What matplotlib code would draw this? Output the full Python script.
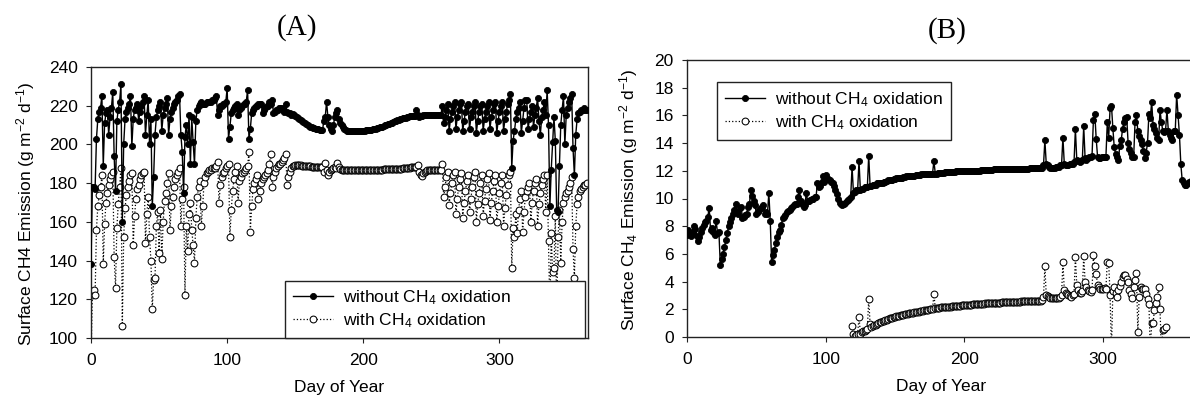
import matplotlib
matplotlib.use("Agg")
import matplotlib.pyplot as plt

plt.rcParams['font.family'] = ['Liberation Sans', 'DejaVu Sans']
plt.rcParams['mathtext.fontset'] = 'custom'
plt.rcParams['mathtext.rm'] = 'Liberation Sans'
plt.rcParams['mathtext.it'] = 'Liberation Sans:italic'
plt.rcParams['mathtext.bf'] = 'Liberation Sans:bold'

# ---------------- data ----------------
days_a = list(range(0, 365))
days_b = list(range(0, 365))
days_b_with = list(range(119, 346))

# Panel A: without CH4 oxidation (g m-2 d-1)
a_without = [
    138, 178, 178, 177, 203, 213, 217, 219, 225, 189,
    211, 216, 218, 205, 214, 219, 227, 194, 176, 212,
    218, 222, 231, 160, 200, 213, 217, 219, 221, 225,
    199, 213, 218, 219, 221, 212, 217, 220, 222, 225,
    205, 215, 223, 200, 213, 168, 183, 205, 214, 218,
    220, 222, 207, 215, 219, 221, 224, 205, 213, 217,
    219, 221, 222, 223, 225, 226, 205, 196, 175, 204,
    210, 200, 215, 190, 214, 201, 190, 212, 218, 220,
    221, 222, 221, 221, 221, 222, 222, 222, 222, 223,
    223, 224, 225, 215, 218, 220, 220, 221, 221, 222,
    229, 203, 209, 216, 218, 219, 220, 221, 215, 218,
    219, 220, 221, 221, 222, 228, 203, 208, 216, 218,
    219, 220, 220, 221, 221, 221, 216, 218, 219, 220,
    220, 222, 221, 223, 216, 217, 218, 218, 219, 219,
    219, 218, 217, 221, 217, 216, 216, 215, 215.5, 215,
    214.5, 214, 213.5, 213, 212.5, 212, 211.5, 211, 210.5, 210,
    209.5, 209.2, 209, 208.7, 208.5, 208.2, 208, 207.8, 207.6, 207.5,
    207.4, 212, 214, 222, 214, 210, 208, 207, 210, 214,
    216, 218, 213, 211, 210, 209, 208, 207.5, 207, 207,
    206.8, 206.8, 206.8, 206.8, 206.9, 206.9, 206.9, 207, 207, 207,
    207.1, 207.1, 207.2, 207.3, 207.4, 207.5, 207.6, 207.8, 208, 208.2,
    208.4, 208.6, 208.8, 209, 209.2, 209.5, 209.8, 210.1, 210.4, 210.7,
    211, 211.3, 211.6, 211.9, 212.2, 212.5, 212.8, 213, 213.3, 213.5,
    213.7, 213.9, 214.1, 214.3, 214.5, 214.6, 214.7, 214.8, 214.9, 218,
    215, 214, 214.5, 214.8, 215, 215, 215, 215, 215, 215.1,
    215.1, 215.1, 215.2, 215.2, 215.2, 215.3, 215.3, 215.3, 220, 211,
    214, 218, 221, 207, 213, 217, 220, 222, 208, 214,
    218, 221, 222, 207, 212, 217, 220, 221, 208, 214,
    217, 220, 222, 206, 212, 217, 220, 221, 207, 213,
    217, 220, 222, 208, 214, 218, 221, 222, 206, 212,
    217, 220, 222, 207, 213, 217, 221, 223, 226, 188,
    202, 207, 213, 217, 219, 222, 206, 212, 219, 223,
    223, 208, 213, 217, 220, 209, 215, 219, 224, 212,
    205, 214, 218, 222, 215, 228, 210, 168, 187, 201,
    214, 202, 166, 165, 189, 210, 218, 225, 200, 215,
    219, 222, 224, 226, 198, 184, 205, 213, 216, 217,
    218, 218, 219, 218, 218,
]

# Panel A: with CH4 oxidation
a_with = [
    90, 122, 125, 122, 156, 168, 174, 178, 184, 138,
    159, 170, 175, 179, 182, 184, 186, 142, 126, 157,
    169, 178, 188, 106, 152, 167, 174, 178, 181, 184,
    185, 148, 163, 172, 177, 179, 182, 184, 185, 186,
    149, 164, 173, 152, 140, 115, 130, 131, 158, 165,
    144, 166, 141, 160, 171, 175, 180, 185, 156, 168,
    173, 178, 182, 184, 186, 188, 158, 172, 178, 122,
    158, 145, 164, 170, 156, 148, 139, 162, 173, 178,
    181, 158, 168, 180, 183, 185, 186, 187, 187, 188,
    188, 188, 189, 191, 170, 179, 183, 185, 186, 188,
    189, 190, 152, 166, 176, 182, 186, 189, 170, 181,
    183, 185, 186, 187, 188, 189, 196, 155, 168, 177,
    180, 182, 184, 172, 176, 180, 182, 183, 184, 185,
    187, 190, 195, 178, 183, 186, 188, 189, 190, 190,
    191, 192, 193, 195, 179, 183, 186, 188, 189, 189,
    189.3, 189.3, 189.3, 189.2, 189.2, 189.1, 189, 189, 188.9, 188.8,
    188.7, 188.6, 188.5, 188.5, 188.4, 188.4, 188.3, 188.3, 188.2, 188.2,
    188.2, 186, 190.5, 186.8, 184.2, 186, 187, 187.5, 188, 188.5,
    187.6, 190.5, 188.5, 187.3, 187, 186.9, 186.8, 186.8, 186.8, 186.8,
    186.8, 186.8, 186.8, 186.8, 186.8, 186.8, 186.8, 186.8, 186.8, 186.8,
    186.8, 186.8, 186.8, 186.8, 186.9, 186.9, 186.9, 186.9, 187, 187,
    187, 187, 187, 187, 187, 187.1, 187.1, 187.1, 187.2, 187.2,
    187.2, 187.3, 187.3, 187.3, 187.4, 187.4, 187.5, 187.5, 187.5, 187.6,
    187.6, 187.7, 187.8, 187.9, 188, 188.1, 188.2, 188.3, 188.5, 188.5,
    189.3, 186, 184, 183.8, 185, 186, 186.5, 186.8, 186.8, 186.8,
    186.8, 186.8, 186.8, 186.8, 186.8, 186.8, 186.8, 186.8, 189.7, 173,
    178, 183, 186, 168.7, 175, 180, 184, 186, 164, 172,
    178, 182, 185, 162, 170, 176, 181, 184, 165, 172,
    178, 183, 186, 160, 169, 175, 180, 184, 163, 171,
    177, 182, 185, 161, 170, 176, 181, 184, 160, 168,
    175, 180, 184, 158, 167, 174, 179, 184, 186, 136,
    157, 152, 164, 154, 166, 172, 176, 155, 165, 173,
    176, 178, 180, 160, 170, 176, 180, 182, 158, 169,
    175, 179, 182, 184, 165, 184, 150, 114, 154, 134,
    136, 163, 111, 152, 166, 139, 160, 170, 173, 175,
    176, 178, 180, 183, 146, 131, 158, 169, 173, 176,
    177, 178, 179, 179, 180,
]

# Panel B: without CH4 oxidation
b_without = [
    7.4, 7.7, 7.5, 7.3, 7.6, 8.0, 7.8, 7.3, 6.9, 7.2,
    7.6, 7.9, 8.1, 8.3, 8.4, 8.7, 9.3, 7.7, 7.9, 7.6,
    7.4, 8.4, 7.5, 7.6, 5.2, 5.6, 6.0, 6.5, 7.0, 7.5,
    8.0, 8.3, 8.6, 8.9, 9.2, 9.6, 9.0, 8.9, 9.3, 9.4,
    8.6, 8.7, 8.8, 8.9, 9.4, 9.6, 10.6, 10.2, 9.8, 9.5,
    8.9, 9.0, 9.2, 9.3, 9.4, 9.5, 8.9, 9.0, 8.9, 10.4,
    8.4, 5.4, 5.9, 6.3, 6.8, 7.2, 7.6, 7.7, 8.1, 8.6,
    8.7, 8.8, 9.0, 9.1, 9.2, 9.3, 9.4, 9.5, 9.6, 9.6,
    10.1, 10.6, 9.8, 9.6, 9.4, 9.5, 10.4, 9.8, 9.8, 9.9,
    10.0, 10.0, 10.1, 10.1, 11.1, 10.8, 10.9, 11.2, 11.6, 11.2,
    11.7, 11.5, 11.4, 11.3, 11.2, 11.1, 10.9, 10.6, 10.3, 10.0,
    9.7, 9.6, 9.5, 9.6, 9.7, 9.8, 9.9, 10.0, 10.1, 12.3,
    10.4, 10.5, 10.6, 10.6, 12.7, 10.6, 10.7, 10.7, 10.8, 10.8,
    10.8, 13.1, 10.9, 10.9, 11.0, 11.0, 11.0, 11.1, 11.1, 11.1,
    11.1, 11.15, 11.2, 11.2, 11.25, 11.3, 11.3, 11.35, 11.35, 11.4,
    11.4, 11.45, 11.45, 11.5, 11.5, 11.5, 11.55, 11.55, 11.6, 11.6,
    11.6, 11.6, 11.65, 11.65, 11.65, 11.7, 11.7, 11.7, 11.7, 11.75,
    11.75, 11.75, 11.75, 11.8, 11.8, 11.8, 11.8, 11.8, 12.7, 11.8,
    11.8, 11.85, 11.85, 11.85, 11.85, 11.85, 11.9, 11.9, 11.9, 11.9,
    11.9, 11.9, 11.9, 11.9, 11.95, 11.95, 11.95, 11.95, 11.95, 11.95,
    12.0, 12.0, 12.0, 12.0, 12.0, 12.0, 12.0, 12.0, 12.0, 12.0,
    12.0, 12.0, 12.05, 12.05, 12.05, 12.05, 12.05, 12.05, 12.05, 12.05,
    12.05, 12.1, 12.1, 12.1, 12.1, 12.1, 12.1, 12.1, 12.1, 12.1,
    12.1, 12.1, 12.1, 12.1, 12.1, 12.1, 12.15, 12.15, 12.15, 12.15,
    12.15, 12.15, 12.15, 12.15, 12.15, 12.15, 12.15, 12.2, 12.2, 12.2,
    12.2, 12.2, 12.2, 12.2, 12.2, 12.2, 12.2, 12.4, 14.2, 12.5,
    12.4, 12.3, 12.2, 12.2, 12.2, 12.2, 12.3, 12.3, 12.3, 12.4,
    12.4, 14.4, 12.5, 12.4, 12.4, 12.4, 12.5, 12.5, 12.5, 12.6,
    15.0, 12.8, 12.7, 12.6, 12.7, 12.8, 15.2, 12.9, 12.8, 12.9,
    13.0, 13.0, 13.1, 15.7, 16.1, 14.3, 13.0, 12.9, 12.9, 13.0,
    13.0, 13.0, 13.0, 15.5, 14.4, 16.5, 16.7, 15.1, 13.7, 13.2,
    13.0, 12.8, 13.8, 14.2, 15.0, 15.5, 15.8, 15.9, 14.0, 13.6,
    13.3, 13.0, 13.0, 15.5, 16.0, 14.9, 14.5, 14.2, 13.9, 13.4,
    12.9, 13.3, 14.0, 16.1, 15.8, 17.0, 15.3, 15.0, 14.7, 14.4,
    14.2, 16.4, 15.5, 14.9, 14.8, 14.9, 16.4, 14.9, 14.6, 14.4,
    14.2, 14.9, 14.9, 17.5, 16.0, 14.6, 12.5, 11.3, 11.1, 11.0,
    11.0, 11.1, 11.2, 11.2, 11.3,
]

# Panel B: with CH4 oxidation (days 119-345)
b_with = [
    0.8,
    0.2, 0.1, 0.15, 0.2, 1.45, 0.25, 0.35, 0.4, 0.45, 0.5,
    0.55, 2.75, 0.95, 0.75, 0.8, 0.85, 0.9, 0.95, 1.0, 1.05,
    1.1, 1.14, 1.18, 1.22, 1.26, 1.3, 1.34, 1.37, 1.4, 1.43,
    1.46, 1.49, 1.52, 1.55, 1.58, 1.6, 1.62, 1.64, 1.66, 1.68,
    1.7, 1.72, 1.74, 1.76, 1.78, 1.8, 1.82, 1.84, 1.86, 1.88,
    1.9, 1.92, 1.94, 1.96, 1.98, 2.0, 2.02, 2.04, 3.1, 2.06,
    2.08, 2.1, 2.12, 2.13, 2.14, 2.15, 2.16, 2.17, 2.18, 2.19,
    2.2, 2.21, 2.22, 2.23, 2.24, 2.25, 2.26, 2.27, 2.28, 2.29,
    2.3, 2.31, 2.32, 2.32, 2.33, 2.34, 2.35, 2.36, 2.37, 2.38,
    2.38, 2.39, 2.4, 2.4, 2.41, 2.42, 2.42, 2.43, 2.44, 2.44,
    2.45, 2.46, 2.46, 2.47, 2.48, 2.48, 2.49, 2.5, 2.5, 2.51,
    2.51, 2.52, 2.52, 2.53, 2.53, 2.54, 2.54, 2.55, 2.55, 2.56,
    2.56, 2.57, 2.57, 2.58, 2.58, 2.59, 2.59, 2.6, 2.6, 2.6,
    2.61, 2.61, 2.62, 2.62, 2.63, 2.63, 2.64, 2.9, 5.1, 3.0,
    2.95, 2.9, 2.85, 2.8, 2.8, 2.8, 2.8, 2.8, 2.85, 2.9,
    3.0, 5.4, 3.4, 3.2, 3.1, 3.0, 2.95, 2.9, 3.0, 3.1,
    5.8, 3.75, 3.4, 3.15, 3.2, 3.3, 5.85, 4.0, 3.6, 3.4,
    3.3, 3.27, 3.4, 5.92, 5.1, 4.55, 3.75, 3.6, 3.5, 3.5,
    3.5, 3.55, 3.5, 5.44, 5.36, 3.03, -1.0, 3.3, 3.63, 3.2,
    2.9, 3.4, 3.7, 4.0, 4.3, 4.47, 4.47, 4.2, 4.0, 3.4,
    3.1, 2.79, 3.63, 4.1, 4.6, 0.38, 2.9, 3.63, 3.5, 3.5,
    3.5, 3.1, 2.72, 2.4, -1.0, 1.0, 1.03, 1.95, 2.43, 2.9,
    3.6, 2.0, -1.0, 0.5, 0.6, 0.7,
]

label_without = 'without CH$_4$ oxidation'
label_with = 'with CH$_4$ oxidation'
yticks_a = [100, 120, 140, 160, 180, 200, 220, 240]
yticks_b = [0, 2, 4, 6, 8, 10, 12, 14, 16, 18, 20]
xticks = [0, 100, 200, 300]

# ---------------- figure ----------------
W, H = 1190, 403
fig = plt.figure(figsize=(W / 100, H / 100), dpi=100)
ax_a = fig.add_axes([91 / W, 65 / H, 497 / W, 271 / H])
ax_b = fig.add_axes([687 / W, 66 / H, 506.3 / W, 277 / H])

black_kw = dict(color='black', linestyle='-', linewidth=1.0, marker='o',
                markersize=4.4, markerfacecolor='black', markeredgecolor='black',
                markeredgewidth=0.6, zorder=3)
white_kw = dict(color='black', linestyle=':', linewidth=0.9, marker='o',
                markersize=4.9, markerfacecolor='white', markeredgecolor='black',
                markeredgewidth=0.75, zorder=2)

for ax in (ax_a, ax_b):
    for s in ax.spines.values():
        s.set_linewidth(1.0)
        s.set_color('#222222')
    ax.tick_params(direction='out', length=3.5, width=0.8, labelsize=12.5, pad=6,
                   color='#222222')
    ax.tick_params(axis='x', pad=7)
    ax.set_xticks(xticks)
    ax.set_xlim(0, 365)

# Panel A
l_with_a, = ax_a.plot(days_a, a_with, label=label_with, **white_kw)
l_wo_a, = ax_a.plot(days_a, a_without, label=label_without, **black_kw)
ax_a.set_ylim(100, 240)
ax_a.set_yticks(yticks_a)
ax_a.set_xlabel('Day of Year', fontsize=12.5)
ax_a.set_ylabel('Surface CH4 Emission (g m$^{-2}$ d$^{-1}$)', fontsize=12.5)
ax_a.xaxis.set_label_coords(0.5, -0.155)
ax_a.yaxis.set_label_coords(-0.109, 0.46)
leg_a = ax_a.legend(handles=[l_wo_a, l_with_a], loc='lower left',
                    bbox_to_anchor=((285 - 91) / 497, 0.0, (585 - 285) / 497, 0.2),
                    mode='expand', borderaxespad=0, fontsize=12.5, numpoints=1,
                    handlelength=2.3, handletextpad=0.6, labelspacing=0.25,
                    borderpad=0.45, fancybox=False, framealpha=1, edgecolor='#222222')
leg_a.get_frame().set_linewidth(1.0)

# Panel B
l_with_b, = ax_b.plot(days_b_with, b_with, label=label_with, **white_kw)
l_wo_b, = ax_b.plot(days_b, b_without, label=label_without, **black_kw)
ax_b.set_ylim(0, 20)
ax_b.set_yticks(yticks_b)
ax_b.set_xlabel('Day of Year', fontsize=12.5)
ax_b.set_ylabel('Surface CH$_4$ Emission (g m$^{-2}$ d$^{-1}$)', fontsize=12.5)
ax_b.xaxis.set_label_coords(0.5017, -0.152)
ax_b.yaxis.set_label_coords(-0.093, 0.495)
leg_b = ax_b.legend(handles=[l_wo_b, l_with_b], loc='upper left',
                    bbox_to_anchor=(0.059, 0.92), borderaxespad=0, fontsize=12.5,
                    numpoints=1, handlelength=2.3, handletextpad=0.6,
                    labelspacing=0.25, borderpad=0.45, fancybox=False,
                    framealpha=1, edgecolor='#222222')
leg_b.get_frame().set_linewidth(1.0)

# Panel titles
fig.text(297 / W, 1 - 28 / H, '(A)', ha='center', va='center', fontsize=21,
         family='Liberation Serif')
fig.text(947 / W, 1 - 31 / H, '(B)', ha='center', va='center', fontsize=21,
         family='Liberation Serif')

fig.savefig('out.png', dpi=100)
